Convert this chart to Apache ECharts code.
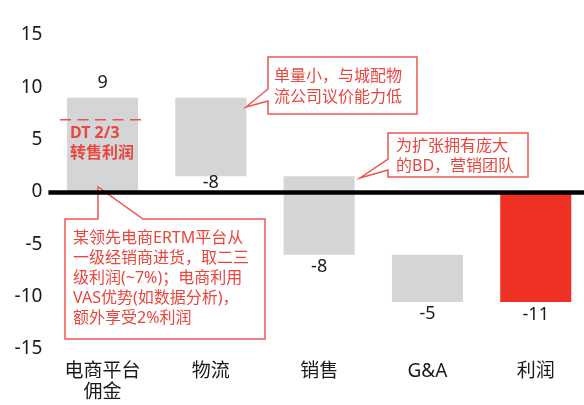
<!DOCTYPE html>
<html>
<head>
<meta charset="utf-8">
<script src="https://cdn.jsdelivr.net/npm/echarts@6/dist/echarts.min.js"></script>
<style>
  html, body { margin: 0; padding: 0; background: #fff; }
  #chart { width: 584px; height: 405px; }
</style>
</head>
<body>
<div id="chart"></div>
<script>
// Waterfall: platform commission, cost steps, resulting profit
const categories = ['电商平台\n佣金', '物流', '销售', 'G&A', '利润'];
const values = [9, -7.5, -7.5, -4.5, -10.5];
const isTotal = [false, false, false, false, true];
const yTicks = { min: -15, max: 15, interval: 5 };
const dtLevel = 6.9; // resale-margin reference line on the first bar

const FONT = "'Noto Sans', 'Noto Sans CJK SC', sans-serif";
const RED_TEXT = '#e9463e';
const RED_LINE = '#ee5550';
const GREY_BAR = '#d4d5d7';
const RED_BAR = '#ee3124';
// vertical gap between bar end and its value label
const labelGap = [6, -2, 3, 3, 4];

// start/end of each waterfall segment
const segments = [];
let running = 0;
values.forEach((v, i) => {
  if (isTotal[i]) {
    segments.push([i, 0, v]);
  } else {
    segments.push([i, running, running + v]);
    running += v;
  }
});

function fmt(v) {
  return String(Math.sign(v) * Math.round(Math.abs(v)));
}

const chart = echarts.init(document.getElementById('chart'));

chart.setOption({
  animation: false,
  grid: { left: 48.4, width: 541.5, top: 35, bottom: 56, outerBoundsMode: 'none', containLabel: false },
  xAxis: {
    type: 'category',
    data: categories,
    axisLine: { show: false },
    axisTick: { show: false },
    axisLabel: {
      margin: 12,
      fontSize: 19,
      lineHeight: 21,
      color: '#1a1a1a',
      fontFamily: FONT
    }
  },
  yAxis: {
    type: 'value',
    min: yTicks.min,
    max: yTicks.max,
    interval: yTicks.interval,
    axisLine: { show: false },
    axisTick: { show: false },
    splitLine: { show: false },
    axisLabel: {
      margin: 6,
      fontSize: 19,
      color: '#1a1a1a',
      fontFamily: FONT,
      padding: [0, 0, 6, 0]
    }
  },
  series: [{
    type: 'custom',
    z: 2,
    data: segments,
    encode: { x: 0, y: [1, 2] },
    renderItem: function (params, api) {
      const i = api.value(0);
      const a = api.value(1);
      const b = api.value(2);
      const top = api.coord([i, Math.max(a, b)]);
      const bot = api.coord([i, Math.min(a, b)]);
      const w = api.size([1, 0])[0] * 0.656;
      const v = values[i];
      const up = v > 0;
      return {
        type: 'group',
        children: [
          {
            type: 'rect',
            shape: { x: top[0] - w / 2, y: top[1], width: w, height: bot[1] - top[1] },
            style: { fill: isTotal[i] ? RED_BAR : GREY_BAR }
          },
          {
            type: 'text',
            x: top[0],
            y: up ? top[1] - labelGap[i] : bot[1] + labelGap[i],
            style: {
              text: fmt(v),
              fill: '#1a1a1a',
              font: '18px ' + FONT,
              align: 'center',
              verticalAlign: up ? 'bottom' : 'top'
            }
          }
        ]
      };
    },
    markLine: {
      silent: true,
      symbol: 'none',
      label: { show: false },
      lineStyle: { color: '#000', width: 4.5, type: 'solid' },
      data: [{ yAxis: 0 }]
    }
  }]
});

const dtY = chart.convertToPixel({ yAxisIndex: 0 }, dtLevel);

const calloutStyle = { fill: '#fff', stroke: RED_LINE, lineWidth: 1.5 };
const calloutText = (x, y, text, lh) => ({
  type: 'text', x: x, y: y, z: 100,
  style: {
    text: text, fill: RED_TEXT, font: '16px ' + FONT,
    lineHeight: lh, align: 'left', verticalAlign: 'top'
  }
});

chart.setOption({
  graphic: [
    {
      type: 'line', z: 100,
      shape: { x1: 60, y1: dtY, x2: 147, y2: dtY },
      style: { stroke: '#e9534b', lineWidth: 1.5, lineDash: [11, 6.5] }
    },
    {
      type: 'text', x: 70, y: 123, z: 100,
      style: {
        text: 'DT 2/3\n转售利润', fill: RED_TEXT,
        font: 'bold 16px ' + FONT, lineHeight: 20,
        align: 'left', verticalAlign: 'top'
      }
    },
    {
      type: 'polygon', z: 100,
      shape: { points: [[268, 57], [417, 57], [417, 114], [268, 114], [268, 101], [246, 107], [268, 89]] },
      style: calloutStyle
    },
    calloutText(274, 65.5, '单量小，与城配物\n流公司议价能力低', 21),
    {
      type: 'polygon', z: 100,
      shape: { points: [[388, 133], [528, 133], [528, 177], [388, 177], [388, 170], [360, 178], [388, 159]] },
      style: calloutStyle
    },
    calloutText(396, 136, '为扩张拥有庞大\n的BD，营销团队', 20),
    {
      type: 'polygon', z: 3,
      shape: { points: [[65, 219], [98, 219], [98, 187], [143, 219], [265, 219], [265, 339], [65, 339]] },
      style: calloutStyle
    },
    Object.assign(calloutText(73, 229, '某领先电商ERTM平台从\n一级经销商进货，取二三\n级利润(~7%)；电商利用\nVAS优势(如数据分析)，\n额外享受2%利润', 19.8), { z: 3 })
  ]
});
</script>
</body>
</html>
